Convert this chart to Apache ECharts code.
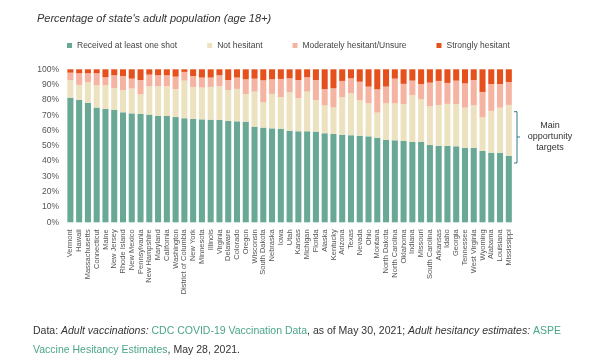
<!DOCTYPE html>
<html>
<head>
<meta charset="utf-8">
<script src="https://cdn.jsdelivr.net/npm/echarts@6/dist/echarts.min.js"></script>
<style>html,body{margin:0;padding:0;background:#fff}#c{width:600px;height:361px}</style>
</head>
<body>
<div id="c"></div>
<script>
const states = ["Vermont","Hawaii","Massachusetts","Connecticut","Maine","New Jersey","Rhode Island","New Mexico","Pennsylvania","New Hampshire","Maryland","California","Washington","District of Columbia","New York","Minnesota","Illinois","Virginia","Delaware","Colorado","Oregon","Wisconsin","South Dakota","Nebraska","Iowa","Utah","Kansas","Michigan","Florida","Alaska","Kentucky","Arizona","Texas","Nevada","Ohio","Montana","North Dakota","North Carolina","Oklahoma","Indiana","Missouri","South Carolina","Arkansas","Idaho","Georgia","Tennessee","West Virginia","Wyoming","Alabama","Louisiana","Mississippi"];
const vaccinated = [81.5,80.0,78.0,75.0,74.1,73.6,71.9,71.2,70.8,70.4,69.5,69.5,68.8,68.0,67.5,67.3,67.1,66.9,66.2,66.0,65.8,62.5,61.9,61.4,61.2,59.9,59.5,59.5,59.3,58.2,57.7,57.3,56.9,56.6,56.2,55.3,53.8,53.6,53.2,52.5,52.5,50.5,49.9,49.9,49.7,48.6,48.6,46.6,45.5,45.5,43.4];
const notHesitant = [11.5,9.8,13.5,14.6,15.5,14.2,14.5,16.2,12.8,18.5,19.4,19.4,18.3,24.6,20.9,20.8,21.4,22.0,20.3,21.2,17.9,22.9,16.5,22.5,20.7,25.0,21.7,25.9,20.6,18.2,17.3,24.4,27.4,23.1,21.6,16.4,24.0,24.2,23.9,30.5,27.9,25.3,26.8,27.5,27.6,26.3,27.8,22.0,27.3,29.4,33.3];
const moderate = [4.8,7.6,5.9,7.8,5.2,8.3,9.2,6.5,9.4,7.6,7.2,7.2,8.1,5.7,7.2,6.5,6.1,7.2,6.5,7.4,9.8,8.5,14.4,9.6,11.8,9.2,11.8,9.4,13.1,10.7,12.6,10.7,9.8,12.2,10.9,15.2,10.9,16.1,13.4,9.6,10.0,15.5,15.7,13.7,15.3,15.9,16.6,16.6,17.6,15.5,15.0];
const strong = [2.2,2.6,2.6,2.6,5.2,3.9,4.4,6.1,7.0,3.5,3.9,3.9,4.8,1.7,4.4,5.4,5.4,3.9,7.0,5.4,6.5,6.1,7.2,6.5,6.3,5.9,7.0,5.2,7.0,12.9,12.4,7.6,5.9,8.1,11.3,13.1,11.3,6.1,9.5,7.4,9.6,8.7,7.6,8.9,7.4,9.2,7.0,14.8,9.6,9.6,8.3];
const seriesNames = ["Received at least one shot","Not hesitant","Moderately hesitant/Unsure","Strongly hesitant"];
const colors = ["#68a894","#ede2bf","#f5b4a1","#e5501d"];
const yTicks = {min:0,max:100,interval:10};

const FONT = "Liberation Sans";
const chart = echarts.init(document.getElementById('c'));
const values = [vaccinated, notHesitant, moderate, strong];
chart.setOption({
  animation:false,
  textStyle:{fontFamily:FONT},
  title:{text:"Percentage of state's adult population (age 18+)",left:32,top:8,
    textStyle:{fontFamily:FONT,fontStyle:'italic',fontWeight:'normal',fontSize:11,color:'#333'}},
  legend:{left:62,top:36,itemWidth:5,itemHeight:5,itemGap:30,icon:'rect',
    data:seriesNames,textStyle:{fontFamily:FONT,fontSize:8.5,color:'#444'}},
  grid:{left:66,top:69.3,width:447.2,height:153},
  xAxis:{type:'category',data:states,axisLine:{show:false},axisTick:{show:false},
    axisLabel:{rotate:90,interval:0,fontSize:7.5,color:'#555',margin:7,fontFamily:FONT}},
  yAxis:{type:'value',min:yTicks.min,max:yTicks.max,interval:yTicks.interval,splitLine:{show:false},
    axisLine:{show:false},axisTick:{show:false},
    axisLabel:{formatter:'{value}%',fontSize:8.5,color:'#555',margin:7,fontFamily:FONT}},
  series:seriesNames.map((n,i)=>({name:n,type:'bar',stack:'s',data:values[i],
    barCategoryGap:'31%',itemStyle:{color:colors[i]},emphasis:{disabled:true}})),
  graphic:[
    {type:'polyline',shape:{points:[[514,111.7],[517,111.7],[517,163],[514,163]]},style:{stroke:'#2f7a8a',lineWidth:1,fill:null}},
    {type:'line',shape:{x1:517,y1:137,x2:520,y2:137},style:{stroke:'#2f7a8a',lineWidth:1}},
    {type:'text',x:550,y:126,style:{text:'Main',fontSize:9,fill:'#333',align:'center',verticalAlign:'middle',fontFamily:FONT}},
    {type:'text',x:550,y:137,style:{text:'opportunity',fontSize:9,fill:'#333',align:'center',verticalAlign:'middle',fontFamily:FONT}},
    {type:'text',x:550,y:148,style:{text:'targets',fontSize:9,fill:'#333',align:'center',verticalAlign:'middle',fontFamily:FONT}},
    {type:'text',x:33,y:331,style:{
      text:'{n|Data: }{i|Adult vaccinations: }{l|CDC COVID-19 Vaccination Data}{n|, as of May 30, 2021; }{i|Adult hesitancy estimates: }{l|ASPE}',
      verticalAlign:'middle',
      rich:{n:{fontSize:10.5,fill:'#333',fontFamily:FONT},i:{fontSize:10.5,fill:'#333',fontStyle:'italic',fontFamily:FONT},l:{fontSize:10.5,fill:'#4aa58a',fontFamily:FONT}}}},
    {type:'text',x:33,y:350,style:{
      text:'{l|Vaccine Hesitancy Estimates}{n|, May 28, 2021.}',
      verticalAlign:'middle',
      rich:{n:{fontSize:10.5,fill:'#333',fontFamily:FONT},l:{fontSize:10.5,fill:'#4aa58a',fontFamily:FONT}}}}
  ]
});
</script>
</body>
</html>
